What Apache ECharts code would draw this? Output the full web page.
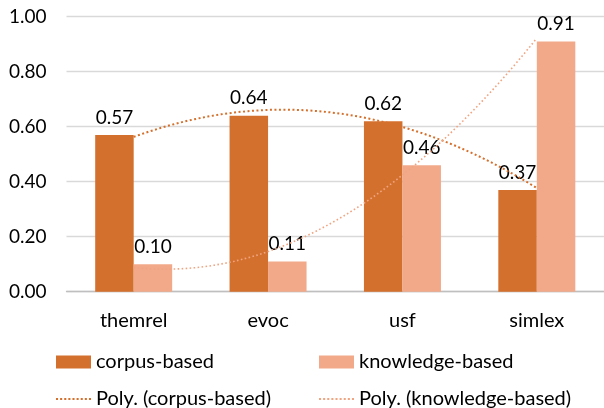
<!DOCTYPE html>
<html>
<head>
<meta charset="utf-8">
<script src="https://cdn.jsdelivr.net/npm/echarts@6/dist/echarts.min.js"></script>
<style>html,body{margin:0;padding:0;background:#fff}#c{width:604px;height:408px}</style>
</head>
<body>
<div id="c"></div>
<script>
const categories = ['themrel', 'evoc', 'usf', 'simlex'];
const corpusBased = [0.57, 0.64, 0.62, 0.37];
const knowledgeBased = [0.10, 0.11, 0.46, 0.91];
const yTicks = { min: 0, max: 1, interval: 0.2 };

// Polynomial (order 2) least-squares trendline, like the spreadsheet's "Poly." trendline
function polyFit2(ys) {
  const n = ys.length;
  const xs = ys.map((_, i) => i + 1);
  let S = [0, 0, 0, 0, 0], T = [0, 0, 0];
  for (let i = 0; i < n; i++) {
    let p = 1;
    for (let k = 0; k < 5; k++) { S[k] += p; if (k < 3) T[k] += p * ys[i]; p *= xs[i]; }
  }
  const A = [[S[0], S[1], S[2], T[0]], [S[1], S[2], S[3], T[1]], [S[2], S[3], S[4], T[2]]];
  for (let i = 0; i < 3; i++) {
    for (let j = i + 1; j < 3; j++) {
      const f = A[j][i] / A[i][i];
      for (let k = i; k < 4; k++) A[j][k] -= f * A[i][k];
    }
  }
  const c = [0, 0, 0];
  for (let i = 2; i >= 0; i--) {
    let s = A[i][3];
    for (let k = i + 1; k < 3; k++) s -= A[i][k] * c[k];
    c[i] = s / A[i][i];
  }
  const pts = [];
  for (let x = 1; x <= n + 1e-9; x += 0.05) pts.push([x, c[0] + c[1] * x + c[2] * x * x]);
  return pts;
}

const FONT = 'Lato';
const FS = 19;
const FS_TXT = 20;
const C1 = '#D4702D';
const C2 = '#F1A98A';
const C2L = '#F0A582';
const DOTS = 'path://M0,0h2v2h-2zM4,0h2v2h-2zM8,0h2v2h-2zM12,0h2v2h-2zM16,0h2v2h-2zM20,0h2v2h-2zM24,0h2v2h-2zM28,0h2v2h-2zM32,0h2v2h-2z';

const legendText = { fontFamily: FONT, fontSize: FS_TXT, color: '#000', lineHeight: 20 };
function legendAt(left, top, item) {
  return {
    left: left, top: top, padding: 0, itemWidth: 35, itemHeight: 13,
    selectedMode: false, textStyle: legendText, data: [item]
  };
}

const chart = echarts.init(document.getElementById('c'), null, { renderer: 'canvas' });
chart.setOption({
  animation: false,
  textStyle: { fontFamily: FONT, color: '#000' },
  grid: { left: 66.5, top: 16.7, width: 547.6, height: 275 },
  xAxis: [
    {
      type: 'category', data: categories,
      axisLine: { lineStyle: { color: '#BFBFBF', width: 1.3 } },
      axisTick: { show: false },
      axisLabel: { fontFamily: FONT, fontSize: FS_TXT, color: '#000', margin: 19 }
    },
    { type: 'value', min: 0.5, max: 4.5, show: false }
  ],
  yAxis: {
    type: 'value', min: yTicks.min, max: yTicks.max, interval: yTicks.interval,
    axisLine: { show: false }, axisTick: { show: false },
    splitLine: { lineStyle: { color: '#D9D9D9', width: 1.3 } },
    axisLabel: { fontFamily: FONT, fontSize: FS, color: '#000', margin: 20, formatter: v => v.toFixed(2) }
  },
  legend: [
    legendAt(56, 352, { name: 'corpus-based', icon: 'rect' }),
    legendAt(56, 389, { name: 'Poly. (corpus-based)', icon: DOTS, itemStyle: { color: C1 } }),
    legendAt(319, 352, { name: 'knowledge-based', icon: 'rect' }),
    legendAt(319, 389, { name: 'Poly. (knowledge-based)', icon: DOTS, itemStyle: { color: C2L } })
  ],
  series: [
    {
      name: 'corpus-based', type: 'bar', data: corpusBased, barWidth: 38.5, barGap: '0%',
      itemStyle: { color: C1 },
      label: { show: true, position: 'top', distance: 8, fontFamily: FONT, fontSize: FS, color: '#000', formatter: p => p.value.toFixed(2) }
    },
    {
      name: 'knowledge-based', type: 'bar', data: knowledgeBased, barWidth: 38.5, barGap: '0%',
      itemStyle: { color: C2 },
      label: { show: true, position: 'top', distance: 8, fontFamily: FONT, fontSize: FS, color: '#000', formatter: p => p.value.toFixed(2) }
    },
    {
      name: 'Poly. (corpus-based)', type: 'line', xAxisIndex: 1, data: polyFit2(corpusBased),
      showSymbol: false, symbol: 'none', z: 5,
      lineStyle: { color: C1, width: 2, type: [2, 2.5] }, itemStyle: { color: C1 }
    },
    {
      name: 'Poly. (knowledge-based)', type: 'line', xAxisIndex: 1, data: polyFit2(knowledgeBased),
      showSymbol: false, symbol: 'none', z: 5,
      lineStyle: { color: C2L, width: 1.6, type: [1.6, 2.4] }, itemStyle: { color: C2L }
    }
  ]
});
</script>
</body>
</html>
